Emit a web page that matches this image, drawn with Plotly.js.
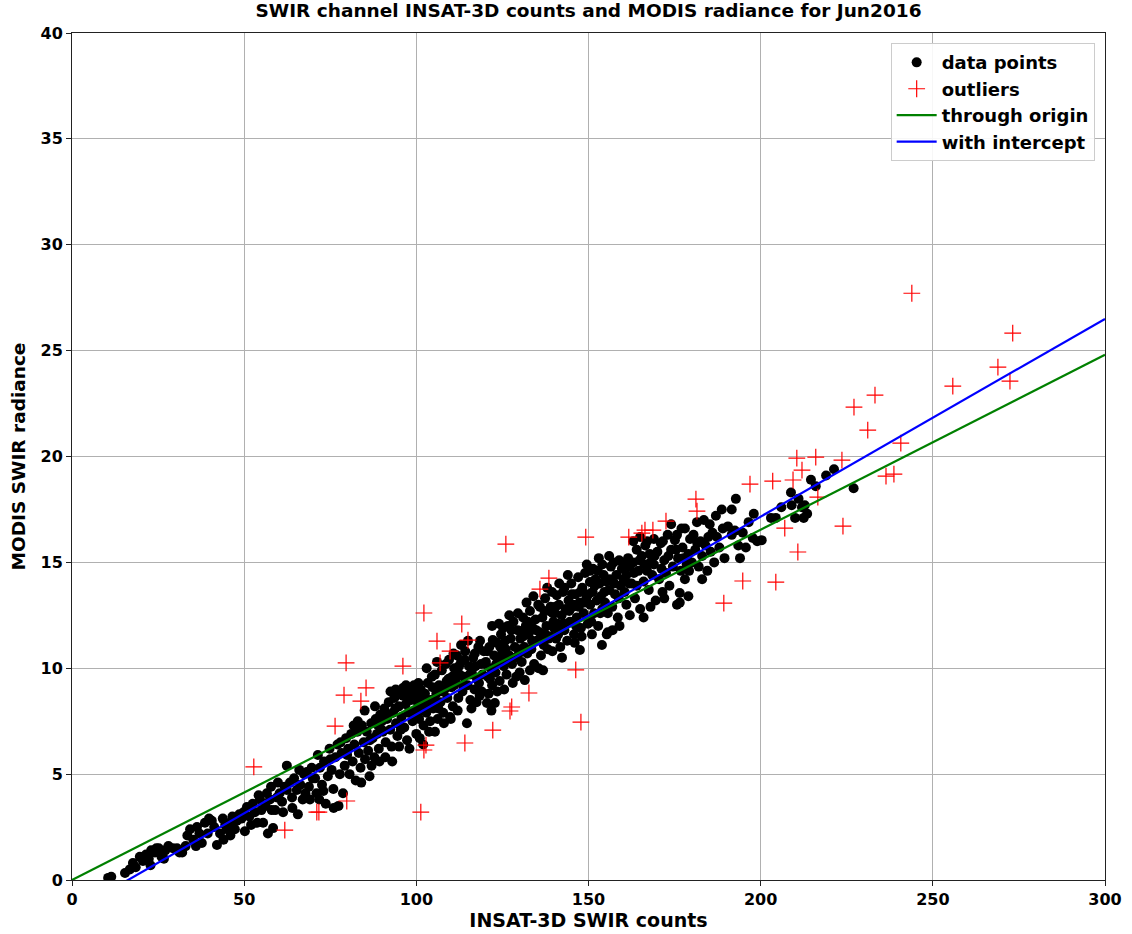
<!DOCTYPE html>
<html>
<head>
<meta charset="utf-8">
<script src="https://cdn.plot.ly/plotly-3.0.1.min.js"></script>
<style>html,body{margin:0;padding:0;background:#fff;}#chart{width:1132px;height:934px;}</style>
</head>
<body>
<div id="chart"></div>
<script>
// ---- data ----
const dataPoints = [
[10.5,0.1],[11.4,0.15],[11.0,0.05],[15.4,0.33],[17.7,0.8],[19.7,1.1],[18.5,0.6],[16.8,0.5],
[20.6,0.9],[21.5,1.2],[22.3,1.0],[23.0,1.4],[24.1,1.3],[25.2,1.5],[26.0,1.1],[27.1,1.4],[28.0,1.6],[29.3,1.5],[22.8,0.7],[26.7,1.0],[24.5,1.5],
[30.5,1.5],[31.2,1.3],[32.0,1.3],[33.5,2.1],[34.3,2.4],[35.2,1.9],[36.3,2.5],[37.0,2.2],[37.7,1.75],[38.6,2.7],[39.4,2.2],[36.0,1.6],[33.0,1.6],[39.8,2.9],
[40.6,2.8],[41.3,2.5],[42.1,1.65],[43.0,2.2],[43.8,2.9],[44.5,2.6],[45.0,2.4],[45.9,2.7],[46.6,3.0],[47.3,2.4],[47.9,2.8],[48.6,3.1],[49.2,2.9],[49.8,3.2],[44.0,1.9],[46.0,2.1],
[50.2,2.3],[50.8,3.45],[51.5,3.0],[52.5,3.6],[53.1,3.2],[53.8,2.7],[54.6,3.8],[55.5,2.7],[56.2,3.5],[56.6,4.1],[56.9,2.2],[57.5,3.8],[58.4,2.45],[58.0,3.3],[59.0,3.3],[59.5,3.9],[57.8,4.4],[55.0,3.3],[52.0,2.6],[54.2,4.0],[59.8,4.6],
[60.3,4.1],[61.3,3.2],[61.8,4.4],[62.4,4.25],[62.4,5.4],[63.3,4.6],[63.9,3.9],[64.5,4.8],[65.3,4.25],[65.6,3.1],[66.3,4.5],[67.0,3.8],[67.4,5.0],[68.2,5.1],[68.8,4.4],[69.1,3.8],[69.6,5.3],[64.0,3.4],[66.0,5.2],[61.0,3.7],[67.8,4.1],[69.9,4.8],
[70.6,4.8],[71.4,5.9],[71.0,4.1],[72.0,5.3],[72.6,4.5],[73.2,5.6],[73.7,3.6],[74.3,4.9],[74.8,6.2],[75.4,5.2],[75.9,4.3],[76.5,5.8],[77.1,6.4],[77.4,3.5],[77.8,5.0],[78.3,6.0],[78.7,4.1],[79.2,5.4],[79.6,6.7],[76.0,3.4],[73.0,4.2],[75.0,5.7],[78.0,6.5],[79.9,5.9],[71.8,3.8],
[80.2,6.2],[80.6,5.0],[81.1,6.9],[81.5,5.6],[82.0,6.4],[82.4,4.7],[82.9,7.0],[83.3,6.0],[83.8,5.3],[84.2,7.3],[84.7,6.5],[85.1,5.7],[85.6,7.0],[86.0,6.1],[86.4,4.9],[86.9,7.4],[87.3,6.7],[87.8,5.8],[88.2,7.6],[88.6,6.9],[89.1,6.2],[89.5,7.8],[89.9,7.1],[81.8,7.3],[85.0,8.0],[87.0,5.4],[83.0,7.5],[88.0,8.2],[89.3,5.6],[84.0,4.6],
[90.3,7.0],[90.7,8.1],[91.1,6.5],[91.5,7.6],[92.0,8.4],[92.4,7.1],[92.8,6.3],[93.2,7.9],[93.6,8.6],[94.1,7.4],[94.5,6.8],[94.9,8.2],[95.3,8.8],[95.7,7.7],[96.1,9.07],[96.1,8.7],[96.5,7.2],[96.9,8.3],[97.3,6.6],[97.7,7.9],[98.1,8.9],[98.5,8.5],[98.9,7.5],[99.3,9.2],[99.7,8.0],[100.0,6.9],[91.0,5.8],[93.0,5.6],[95.0,6.3],[97.0,9.2],[98.0,6.2],[99.0,8.6],[94.0,9.0],[92.5,8.9],[90.0,7.5],
[100.4,8.4],[100.8,7.6],[101.0,6.7],[101.3,9.0],[101.7,8.2],[102.1,7.3],[102.5,8.8],[102.9,7.9],[103.3,9.3],[103.7,7.0],[104.1,8.5],[104.5,9.6],[104.9,8.1],[105.4,9.7],[105.4,7.0],[105.8,8.8],[106.2,7.6],[106.6,9.2],[107.0,8.4],[107.4,9.9],[107.8,7.9],[108.2,9.0],[108.6,10.2],[109.0,8.6],[109.4,9.5],[109.8,7.7],[100.6,9.3],[102.0,6.4],[103.0,10.0],[104.0,7.5],[106.0,10.3],[108.0,7.4],[109.5,10.4],[101.5,8.0],[105.0,8.5],
[110.2,9.1],[110.6,8.2],[111.0,10.0],[111.4,9.4],[111.8,10.6],[111.8,9.9],[112.2,8.6],[112.6,9.7],[113.0,10.3],[113.4,8.9],[113.8,9.6],[114.2,10.8],[114.7,7.4],[114.9,9.2],[115.3,10.1],[115.7,8.5],[116.1,9.8],[116.5,10.5],[116.9,9.0],[117.0,10.7],[117.6,9.5],[118.0,11.0],[118.4,8.7],[118.8,10.2],[119.2,9.7],[119.6,10.8],[110.0,7.6],[112.0,8.0],[113.0,11.1],[115.0,11.3],[116.0,8.1],[117.5,8.4],[119.0,8.9],[111.0,9.2],[114.0,10.4],[118.5,11.3],[110.8,10.7],
[120.2,10.3],[120.5,8.36],[120.8,9.6],[121.2,11.0],[121.6,10.0],[122.0,9.2],[122.2,11.33],[122.8,8.36],[122.6,10.6],[123.0,9.8],[123.4,11.2],[123.8,10.4],[124.2,9.4],[124.6,11.6],[125.0,10.8],[125.4,10.1],[125.8,11.3],[126.2,9.7],[126.6,12.0],[127.0,10.6],[127.4,11.4],[127.8,10.2],[128.2,12.2],[128.6,11.0],[129.0,9.6],[129.4,11.8],[129.8,10.7],[121.0,8.8],[123.5,8.9],[124.0,12.1],[125.5,9.0],[127.0,12.5],[128.0,9.3],[129.5,12.6],[126.0,10.9],[122.0,12.0],[121.8,8.0],[124.8,10.6],
[130.2,11.4],[130.6,10.3],[131.0,12.4],[131.5,9.44],[131.4,11.0],[131.8,12.0],[132.2,10.7],[132.6,11.6],[133.0,12.7],[133.4,10.9],[133.8,11.9],[134.2,10.2],[134.6,12.3],[135.0,11.3],[135.4,13.0],[135.9,12.9],[135.8,11.7],[136.2,10.6],[136.8,9.9],[136.6,12.4],[137.0,11.1],[137.4,13.3],[137.8,12.0],[138.2,10.9],[138.6,12.7],[139.0,11.5],[139.4,13.6],[139.8,12.2],[130.0,9.8],[132.0,13.1],[134.0,13.4],[135.5,10.0],[138.0,13.8],[139.5,10.8],[133.0,9.9],[131.0,11.5],[137.5,11.6],[139.0,12.9],
[140.2,12.6],[140.8,13.45],[140.6,11.4],[141.0,12.1],[141.4,13.0],[141.8,11.0],[142.3,10.5],[142.2,12.5],[142.6,13.6],[143.0,13.8],[143.0,11.8],[143.4,12.8],[143.8,11.3],[144.2,13.2],[144.6,12.2],[145.0,14.0],[145.4,12.9],[145.8,11.6],[146.2,13.5],[146.6,12.4],[147.0,14.3],[147.5,10.86],[147.4,13.1],[147.8,11.9],[148.2,13.8],[148.6,12.6],[149.0,14.5],[149.4,13.3],[149.8,12.1],[141.5,14.0],[144.0,14.4],[146.0,11.2],[148.0,11.5],[149.5,14.9],[142.0,11.9],[145.5,13.0],[147.2,12.9],[140.0,11.9],
[150.4,14.6],[150.4,14.07],[150.5,13.0],[150.8,12.2],[151.3,14.7],[151.2,13.6],[151.6,12.6],[152.0,14.2],[152.7,14.6],[152.4,13.2],[152.8,12.0],[153.2,14.0],[153.9,11.1],[153.6,13.4],[154.0,12.8],[154.4,14.4],[154.8,13.1],[155.3,11.6],[155.6,11.7],[155.2,14.1],[155.6,12.6],[156.0,13.7],[156.5,14.8],[156.9,12.9],[157.3,15.0],[157.7,13.5],[158.1,14.4],[158.5,12.4],[158.9,15.1],[159.3,13.9],[159.7,14.7],[160.0,15.0],[154.0,14.9],[157.0,11.8],[159.0,12.0],[151.0,11.6],[153.0,15.2],[156.0,15.3],
[160.5,13.6],[161.0,14.4],[161.5,15.2],[162.0,12.5],[162.5,14.0],[163.0,15.0],[163.5,13.3],[164.0,15.6],[164.5,14.6],[165.0,12.8],[165.5,15.3],[166.0,14.1],[166.5,15.8],[167.0,16.0],[167.5,13.7],[168.0,15.0],[168.5,14.4],[169.0,16.1],[169.5,13.2],[170.0,15.5],[161.0,13.0],[163.0,16.0],[165.0,16.2],[166.0,12.4],[168.0,12.9],[169.0,14.9],[162.0,14.8],[164.0,13.9],[167.0,14.6],
[170.5,14.2],[171.0,15.9],[171.6,16.0],[171.5,13.6],[172.0,15.1],[172.5,14.5],[173.0,16.3],[173.5,13.9],[174.0,15.6],[174.5,14.8],[175.1,16.05],[175.7,16.3],[175.7,13.0],[176.5,13.55],[176.5,13.1],[176.0,15.2],[176.8,14.6],[177.3,15.7],[178.0,16.6],[178.5,14.9],[179.0,15.4],[179.5,16.1],[180.0,15.0],[172.0,13.3],[174.0,16.8],[177.0,16.6],[178.0,14.2],[179.0,13.4],
[180.5,16.3],[181.5,16.9],[181.0,15.6],[182.0,14.8],[182.5,16.0],[183.0,15.3],[183.5,17.0],[184.0,15.8],[184.5,14.6],[185.2,16.8],[185.5,15.5],[186.0,16.4],[187.3,16.2],[187.0,17.2],[188.0,15.7],[188.7,17.5],[189.0,16.6],[189.5,15.2],[183.0,14.2],[186.5,15.0],
[190.5,16.7],[191.6,16.3],[191.6,17.5],[192.5,16.5],[192.8,18.0],[193.5,15.8],[194.0,15.2],[194.8,16.4],[195.7,15.7],[196.5,16.9],[197.7,16.15],[199.0,16.0],[200.3,16.05],[198.0,17.3],
[203.0,17.1],[204.4,17.1],[208.8,18.3],[209.0,17.7],[210.0,17.1],[212.5,17.1],[212.8,17.7],[212.0,17.6],[214.6,18.9],[216.0,18.6],[219.0,19.1],[221.3,19.4],[227.0,18.5],[206.0,17.6],[211.0,18.0],[213.5,17.3],
[86.5,6.6],[88.9,7.3],[91.8,7.8],[93.9,8.1],[95.5,7.1],[97.5,8.6],[99.5,7.7],[100.2,8.8],[101.9,8.6],[103.5,8.3],[104.7,9.1],[106.4,8.1],[107.6,8.9],[108.8,9.4],[110.4,9.6],[112.4,10.1],[113.6,9.2],[115.5,9.7],[117.2,10.1],[118.2,9.3],[119.8,10.2],[120.6,10.8],[121.4,9.5],[123.2,10.2],[124.4,11.0],[125.2,11.9],[126.4,10.4],[127.6,11.8],[128.8,10.5],[130.4,10.9],[131.2,11.8],[132.4,12.2],[133.6,11.3],[134.8,11.8],[136.4,11.4],[137.2,12.7],[138.4,11.4],[139.6,12.6],[140.4,12.9],[141.2,11.6],[142.8,12.1],[144.4,12.7],[145.2,13.5],[146.4,12.0],[147.6,13.6],[148.8,13.1],[150.0,13.5],[151.8,13.9],[153.4,12.6],[154.6,13.6],[156.2,14.2],[157.5,14.0],[158.8,13.3],[160.2,14.2],[161.8,14.0],[163.2,14.5],[164.8,15.1],[166.2,14.9],[167.8,15.4],[169.2,15.3],[171.2,14.7],[173.2,15.3],[175.4,15.6],[177.6,15.2],[179.2,14.6],[181.6,15.9],[184.8,16.2]
];
const outlierX = [52.8,61.8,71.1,71.7,76.4,79.6,79.0,79.8,83.9,85.4,96.1,101.3,102.2,102.8,102.2,106.0,106.9,109.8,113.2,115.0,114.1,122.2,127.2,127.7,126.0,132.7,135.9,138.5,146.3,147.8,149.2,161.7,165.5,166.4,168.7,172.5,181.2,181.5,189.3,194.8,196.9,203.5,204.4,209.4,207.0,210.5,212.0,210.8,216.0,216.6,223.6,223.9,227.1,233.2,231.1,236.4,238.7,240.7,243.9,255.8,268.9,272.4,273.2];
const outlierY = [5.34,2.36,3.21,3.21,7.27,10.25,8.73,3.73,8.45,9.07,10.10,3.21,12.61,6.37,6.14,11.28,10.25,10.81,12.09,11.33,6.47,7.08,7.98,8.17,15.86,8.83,13.74,14.26,9.92,7.46,16.19,16.19,16.38,16.52,16.52,16.95,17.99,17.42,13.08,14.12,18.70,18.84,14.07,18.89,16.62,19.92,19.36,15.49,19.97,18.08,19.83,16.71,22.33,22.90,21.25,19.07,19.17,20.63,27.71,23.32,24.22,23.56,25.83];
const fitRange = [0, 300];
const slopeThroughOrigin = 0.0827;
const slopeWithIntercept = 0.0934;
const interceptValue = -1.52;

const labels = {
  title: 'SWIR channel INSAT-3D counts and MODIS radiance for Jun2016',
  x: 'INSAT-3D SWIR counts',
  y: 'MODIS SWIR radiance',
  series: ['data points', 'outliers', 'through origin', 'with intercept']
};

// ---- traces ----
const FONT = '"DejaVu Sans", "Liberation Sans", sans-serif';
const traces = [
  {type:'scatter', mode:'markers', name:labels.series[0],
   x:dataPoints.map(p=>p[0]), y:dataPoints.map(p=>p[1]),
   marker:{color:'#000000', size:10, line:{width:0}}},
  {type:'scatter', mode:'markers', name:labels.series[1],
   x:outlierX, y:outlierY,
   marker:{symbol:'cross-thin', size:12, color:'#ff0000', line:{color:'#ff0000', width:1.2}}},
  {type:'scatter', mode:'lines', name:labels.series[2],
   x:fitRange, y:fitRange.map(v=>slopeThroughOrigin*v),
   line:{color:'#008000', width:2.2}},
  {type:'scatter', mode:'lines', name:labels.series[3],
   x:fitRange, y:fitRange.map(v=>slopeWithIntercept*v+interceptValue),
   line:{color:'#0000ff', width:2.2}}
];

const axisCommon = {
  showgrid:true, gridcolor:'#b0b0b0', gridwidth:1,
  showline:true, linecolor:'#222222', linewidth:1, mirror:true,
  ticks:'outside', ticklen:5, tickwidth:1, tickcolor:'#222222',
  zeroline:false,
  tickfont:{family:FONT, size:16, color:'#000', weight:'bold'}
};

const layout = {
  width:1132, height:934,
  paper_bgcolor:'#ffffff', plot_bgcolor:'#ffffff',
  margin:{l:72, r:27, t:33, b:54},
  title:{text:labels.title, x:0.5, xref:'paper', xanchor:'center',
         font:{family:FONT, size:18.5, color:'#000', weight:'bold'}},
  xaxis:Object.assign({}, axisCommon, {range:[0,300], dtick:50, tick0:0,
         title:{text:labels.x, standoff:4, font:{family:FONT, size:19, color:'#000', weight:'bold'}}}),
  yaxis:Object.assign({}, axisCommon, {range:[0,40], dtick:5, tick0:0,
         title:{text:labels.y, standoff:10, font:{family:FONT, size:18.5, color:'#000', weight:'bold'}}}),
  showlegend:true,
  legend:{x:0.99, y:0.988, xanchor:'right', yanchor:'top',
          bgcolor:'rgba(255,255,255,0.9)', bordercolor:'#cccccc', borderwidth:1,
          font:{family:FONT, size:18, color:'#000', weight:'bold'},
          itemwidth:40, tracegroupgap:0}
};

Plotly.newPlot('chart', traces, layout, {displayModeBar:false, responsive:false});
</script>
</body>
</html>
